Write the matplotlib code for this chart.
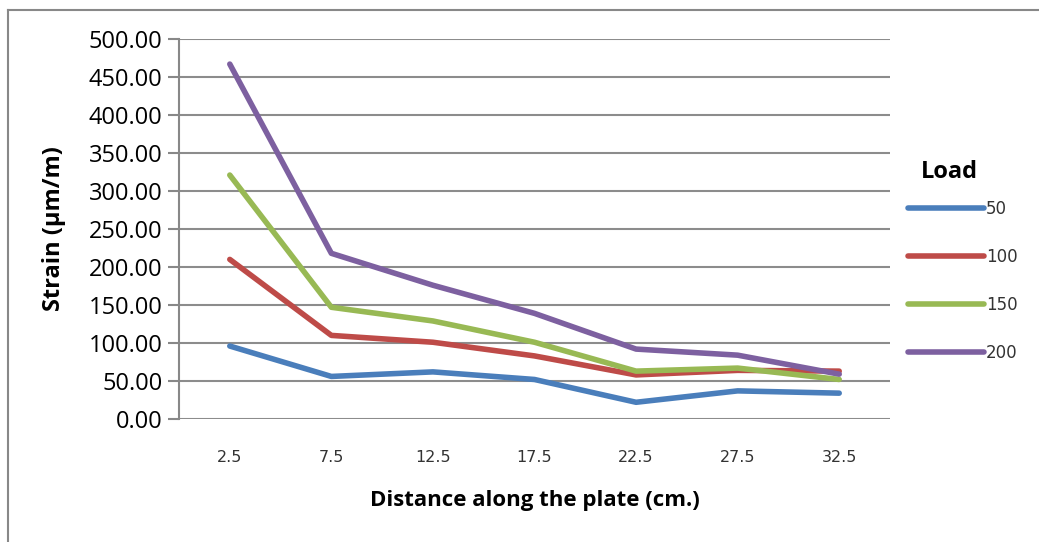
import numpy as np
import matplotlib.pyplot as plt
from matplotlib.lines import Line2D

distance = ["2.5", "7.5", "12.5", "17.5", "22.5", "27.5", "32.5"]
load_labels = ["50", "100", "150", "200"]
strain_50 = [96, 56, 62, 52, 22, 37, 34]
strain_100 = [210, 110, 101, 83, 58, 64, 63]
strain_150 = [321, 147, 129, 101, 63, 67, 52]
strain_200 = [467, 218, 176, 139, 92, 84, 59]
colors = ["#4a7ebb", "#be4b48", "#98b954", "#7d60a0"]

fig = plt.figure(figsize=(10.39, 5.42), dpi=100)
ax = fig.add_axes([179 / 1039, 1 - 419 / 542, (890 - 179) / 1039, (419 - 39) / 542])

x = np.arange(len(distance))
for vals, lab, c in zip([strain_50, strain_100, strain_150, strain_200], load_labels, colors):
    ax.plot(x, vals, color=c, linewidth=4, label=lab, solid_capstyle="round")

ax.set_xlim(-0.5, len(distance) - 0.5)
ax.set_ylim(0, 500)
ax.set_yticks(np.arange(0, 501, 50))
ax.set_yticklabels(["%.2f" % v for v in np.arange(0, 501, 50)], fontsize=17, family="Open Sans")
ax.set_xticks(x)
ax.set_xticklabels(distance, fontsize=11.5, family="DejaVu Sans", color="#333333")
ax.tick_params(axis="x", length=0, pad=22)
ax.tick_params(axis="y", length=8, width=1.5, color="#888888", pad=4)
ax.yaxis.grid(True, color="#8c8c8c", linewidth=1.5)
ax.set_axisbelow(True)
for s in ["top", "right", "bottom"]:
    ax.spines[s].set_visible(False)
ax.spines["left"].set_color("#888888")
ax.spines["left"].set_linewidth(1.5)

ax.set_xlabel("Distance along the plate (cm.)", fontsize=16, fontweight="bold",
              family="Open Sans", labelpad=18)
ax.set_ylabel("Strain (µm/m)", fontsize=17, fontweight="bold", family="Open Sans", labelpad=16)

leg = ax.legend(loc="upper left", bbox_to_anchor=(1.025, 0.577),
                frameon=False, fontsize=12, handlelength=4.6, handletextpad=0.1,
                labelspacing=1.8, borderaxespad=0, borderpad=0)
for t in leg.get_texts():
    t.set_color("#333333")
ax.text(1.043, 0.651, "Load", transform=ax.transAxes, fontsize=17, fontweight="bold",
        family="Open Sans", ha="left", va="center")

# outer chart border
fig.add_artist(Line2D([8 / 1039, 1.0], [1 - 10 / 542, 1 - 10 / 542], color="#888888", linewidth=1.5))
fig.add_artist(Line2D([8 / 1039, 8 / 1039], [0.0, 1 - 10 / 542], color="#888888", linewidth=1.5))

plt.savefig("out.png", dpi=100)
